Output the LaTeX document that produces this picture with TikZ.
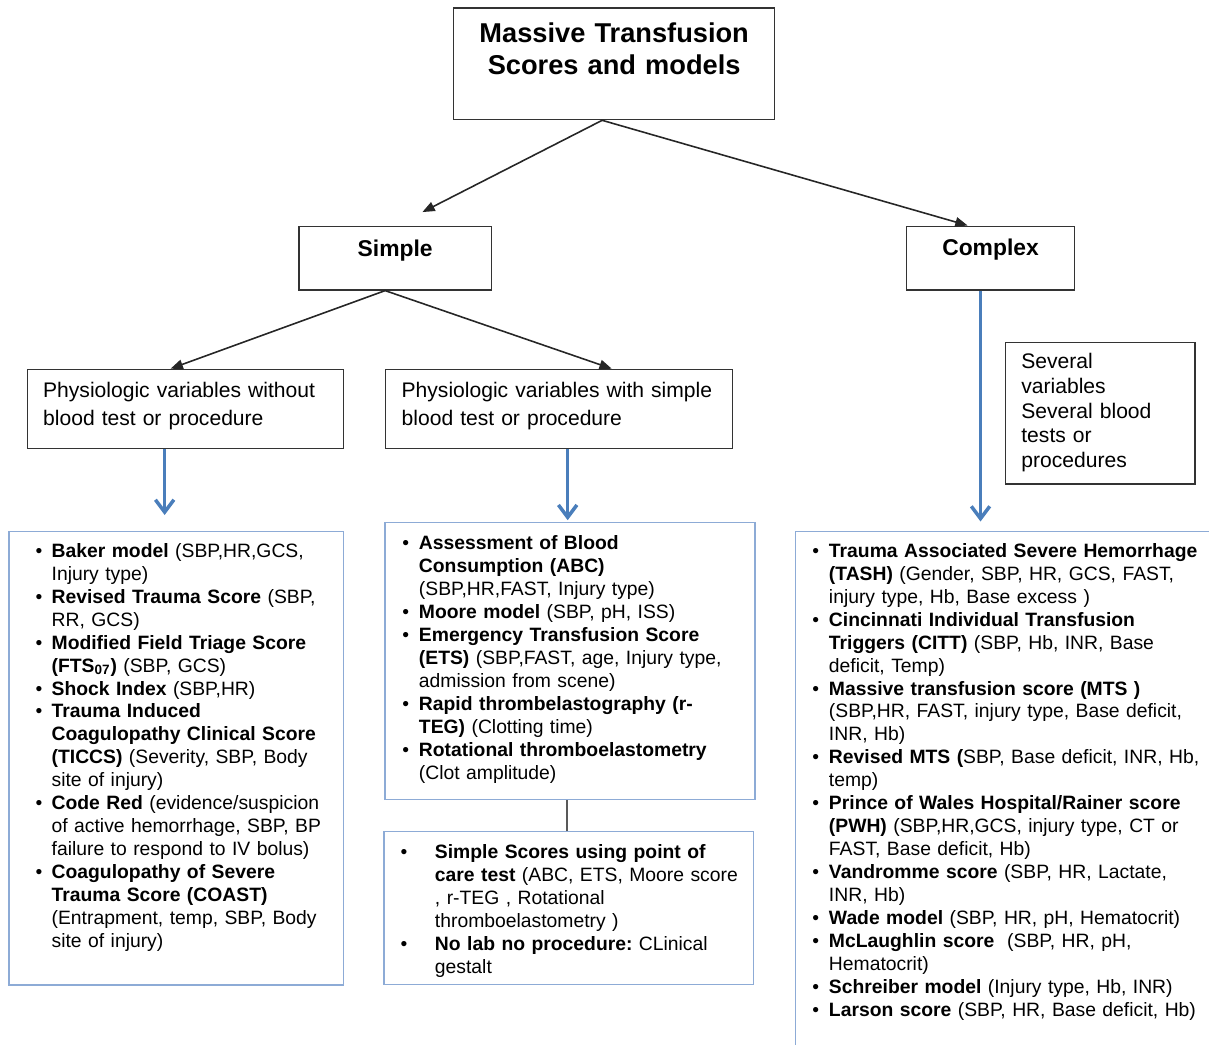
\documentclass[tikz,border=0pt]{standalone}
\usepackage{fontspec}
\setmainfont{Liberation Sans}
\usetikzlibrary{arrows.meta}
\definecolor{arrowblue}{RGB}{74,126,187}
\definecolor{listblue}{RGB}{141,171,214}
\frenchspacing
\newlength{\pxu}\setlength{\pxu}{0.02cm}
\newlength{\bulind}
\newcommand{\lpad}[2]{\setlength{\leftskip}{#1\pxu}\setlength{\bulind}{#2\pxu}}
\newcommand{\bitem}[1]{\noindent\hangindent=\bulind\hangafter=1\makebox[\bulind][l]{\textbullet}#1\par}
\tikzset{
    hdrbox/.style={draw=black!80, line width=0.75pt, anchor=north west, inner xsep=4\pxu, inner ysep=0pt},
    listbox/.style={draw=listblue, line width=0.75pt, anchor=north west, inner xsep=4\pxu, inner ysep=0pt, font=\fontsize{11}{13.06}\selectfont},
    titlefont/.style={font=\fontsize{15.5}{18.3}\selectfont\bfseries},
    headfont/.style={font=\fontsize{13}{16}\selectfont\bfseries},
    boxfont/.style={font=\fontsize{12}{16}\selectfont},
    blackarr/.style={-{Triangle[length=7pt,width=5.5pt]}, line width=0.9pt, draw=black!85},
    bluearr/.style={-{Straight Barb[length=7pt,width=10.5pt]}, line width=2pt, draw=arrowblue},
    link/.style={draw=black!65, line width=1.1pt}
}
\begin{document}
\begin{tikzpicture}[x=0.02cm, y=-0.02cm]
    \useasboundingbox (0,0) rectangle (1209,1044);
    \node[hdrbox, titlefont, align=center, text width=313\pxu, text height=34.4\pxu, text depth=77.3\pxu] (title) at (453,7.3) {Massive Transfusion\\Scores and models};
    \node[hdrbox, headfont, align=center, text width=184.4\pxu, text height=30\pxu, text depth=33.3\pxu] (simple) at (298.3,226) {Simple};
    \node[hdrbox, headfont, align=center, text width=160.3\pxu, text height=29\pxu, text depth=34.3\pxu] (complex) at (905.7,226) {Complex};
    \node[hdrbox, boxfont, text width=308\pxu, text height=27.7\pxu, text depth=51.3\pxu] (physbox) at (27,369) {\lpad{11.5}{0}Physiologic variables without\newline blood test or procedure\par};
    \node[hdrbox, boxfont, text width=339\pxu, text height=27.7\pxu, text depth=51.3\pxu] (labbox) at (385,369) {\lpad{12}{0}Physiologic variables with simple\newline blood test or procedure\par};
    \node[hdrbox, font=\fontsize{12}{14}\selectfont, text width=181.3\pxu, text height=26.6\pxu, text depth=115\pxu] (several) at (1005,341.7) {\lpad{11.7}{0}Several\newline variables\newline Several blood\newline tests or\newline procedures\par};
    \node[listbox, text width=326.4\pxu, text height=25.7\pxu, text depth=427.6\pxu] (physlist) at (8.3,531) {\lpad{22.6}{16.1}%
        \bitem{\textbf{Baker model} (SBP,HR,GCS,\newline Injury type)}%
        \bitem{\textbf{Revised Trauma Score} (SBP,\newline RR, GCS)}%
        \bitem{\textbf{Modified Field Triage Score\newline (FTS\textsubscript{07})} (SBP, GCS)}%
        \bitem{\textbf{Shock Index} (SBP,HR)}%
        \bitem{\textbf{Trauma Induced\newline Coagulopathy Clinical Score\newline (TICCS)} (Severity, SBP, Body\newline site of injury)}%
        \bitem{\textbf{Code Red} (evidence/suspicion\newline of active hemorrhage, SBP, BP\newline failure to respond to IV bolus)}%
        \bitem{\textbf{Coagulopathy of Severe\newline Trauma Score (COAST)}\newline (Entrapment, temp, SBP, Body\newline site of injury)}};
    \node[listbox, text width=362\pxu, text height=27.3\pxu, text depth=250\pxu] (lablist) at (384.3,521.7) {\lpad{13.3}{16.7}%
        \bitem{\textbf{Assessment of Blood\newline Consumption (ABC)}\newline (SBP,HR,FAST, Injury type)}%
        \bitem{\textbf{Moore model} (SBP, pH, ISS)}%
        \bitem{\textbf{Emergency Transfusion Score\newline (ETS)} (SBP,FAST, age, Injury type,\newline admission from scene)}%
        \bitem{\textbf{Rapid thrombelastography (r-\newline TEG)} (Clotting time)}%
        \bitem{\textbf{Rotational thromboelastometry}\newline (Clot amplitude)}};
    \node[listbox, text width=361.4\pxu, text height=27\pxu, text depth=126.3\pxu] (poclist) at (383.3,830.7) {\lpad{12.7}{34.3}%
        \bitem{\textbf{Simple Scores using point of\newline care test} (ABC, ETS, Moore score\newline , r-TEG , Rotational\newline thromboelastometry )}%
        \bitem{\textbf{No lab no procedure:} CLinical\newline gestalt}};
    \node[listbox, text width=412\pxu, text height=25.7\pxu, text depth=493.3\pxu] (complexlist) at (795,531) {\lpad{12.6}{16.7}%
        \bitem{\textbf{Trauma Associated Severe Hemorrhage\newline (TASH)} (Gender, SBP, HR, GCS, FAST,\newline injury type, Hb, Base excess )}%
        \bitem{\textbf{Cincinnati Individual Transfusion\newline Triggers (CITT)} (SBP, Hb, INR, Base\newline deficit, Temp)}%
        \bitem{\textbf{Massive transfusion score (MTS )}\newline (SBP,HR, FAST, injury type, Base deficit,\newline INR, Hb)}%
        \bitem{\textbf{Revised MTS (}SBP, Base deficit, INR, Hb,\newline temp)}%
        \bitem{\textbf{Prince of Wales Hospital/Rainer score\newline (PWH)} (SBP,HR,GCS, injury type, CT or\newline FAST, Base deficit, Hb)}%
        \bitem{\textbf{Vandromme score} (SBP, HR, Lactate,\newline INR, Hb)}%
        \bitem{\textbf{Wade model} (SBP, HR, pH, Hematocrit)}%
        \bitem{\textbf{McLaughlin score}\ \ (SBP, HR, pH,\newline Hematocrit)}%
        \bitem{\textbf{Schreiber model} (Injury type, Hb, INR)}%
        \bitem{\textbf{Larson score} (SBP, HR, Base deficit, Hb)}};
    \draw[blackarr, shorten >=30.6\pxu] ([xshift=-12\pxu]title.south) -- (simple.north);
    \draw[blackarr, shorten >=2\pxu] ([xshift=-12\pxu]title.south) -- ([xshift=-21\pxu]complex.north);
    \draw[blackarr, shorten >=1\pxu] ([xshift=-10\pxu]simple.south) -- ([xshift=-16\pxu]physbox.north);
    \draw[blackarr, shorten >=1\pxu] ([xshift=-10\pxu]simple.south) -- ([xshift=53.5\pxu]labbox.north);
    \draw[bluearr, shorten >=16\pxu] ([xshift=-21\pxu]physbox.south) -- ([xshift=-21\pxu]physbox.south |- physlist.north);
    \draw[bluearr, shorten >=1.5\pxu] ([xshift=8.5\pxu]labbox.south) -- ([xshift=8.5\pxu]labbox.south |- lablist.north);
    \draw[bluearr, shorten >=9.5\pxu] ([xshift=-10\pxu]complex.south) -- ([xshift=-10\pxu]complex.south |- complexlist.north);
    \draw[link] ([xshift=-3\pxu]lablist.south) -- ([xshift=-3\pxu]lablist.south |- poclist.north);
\end{tikzpicture}
\end{document}
